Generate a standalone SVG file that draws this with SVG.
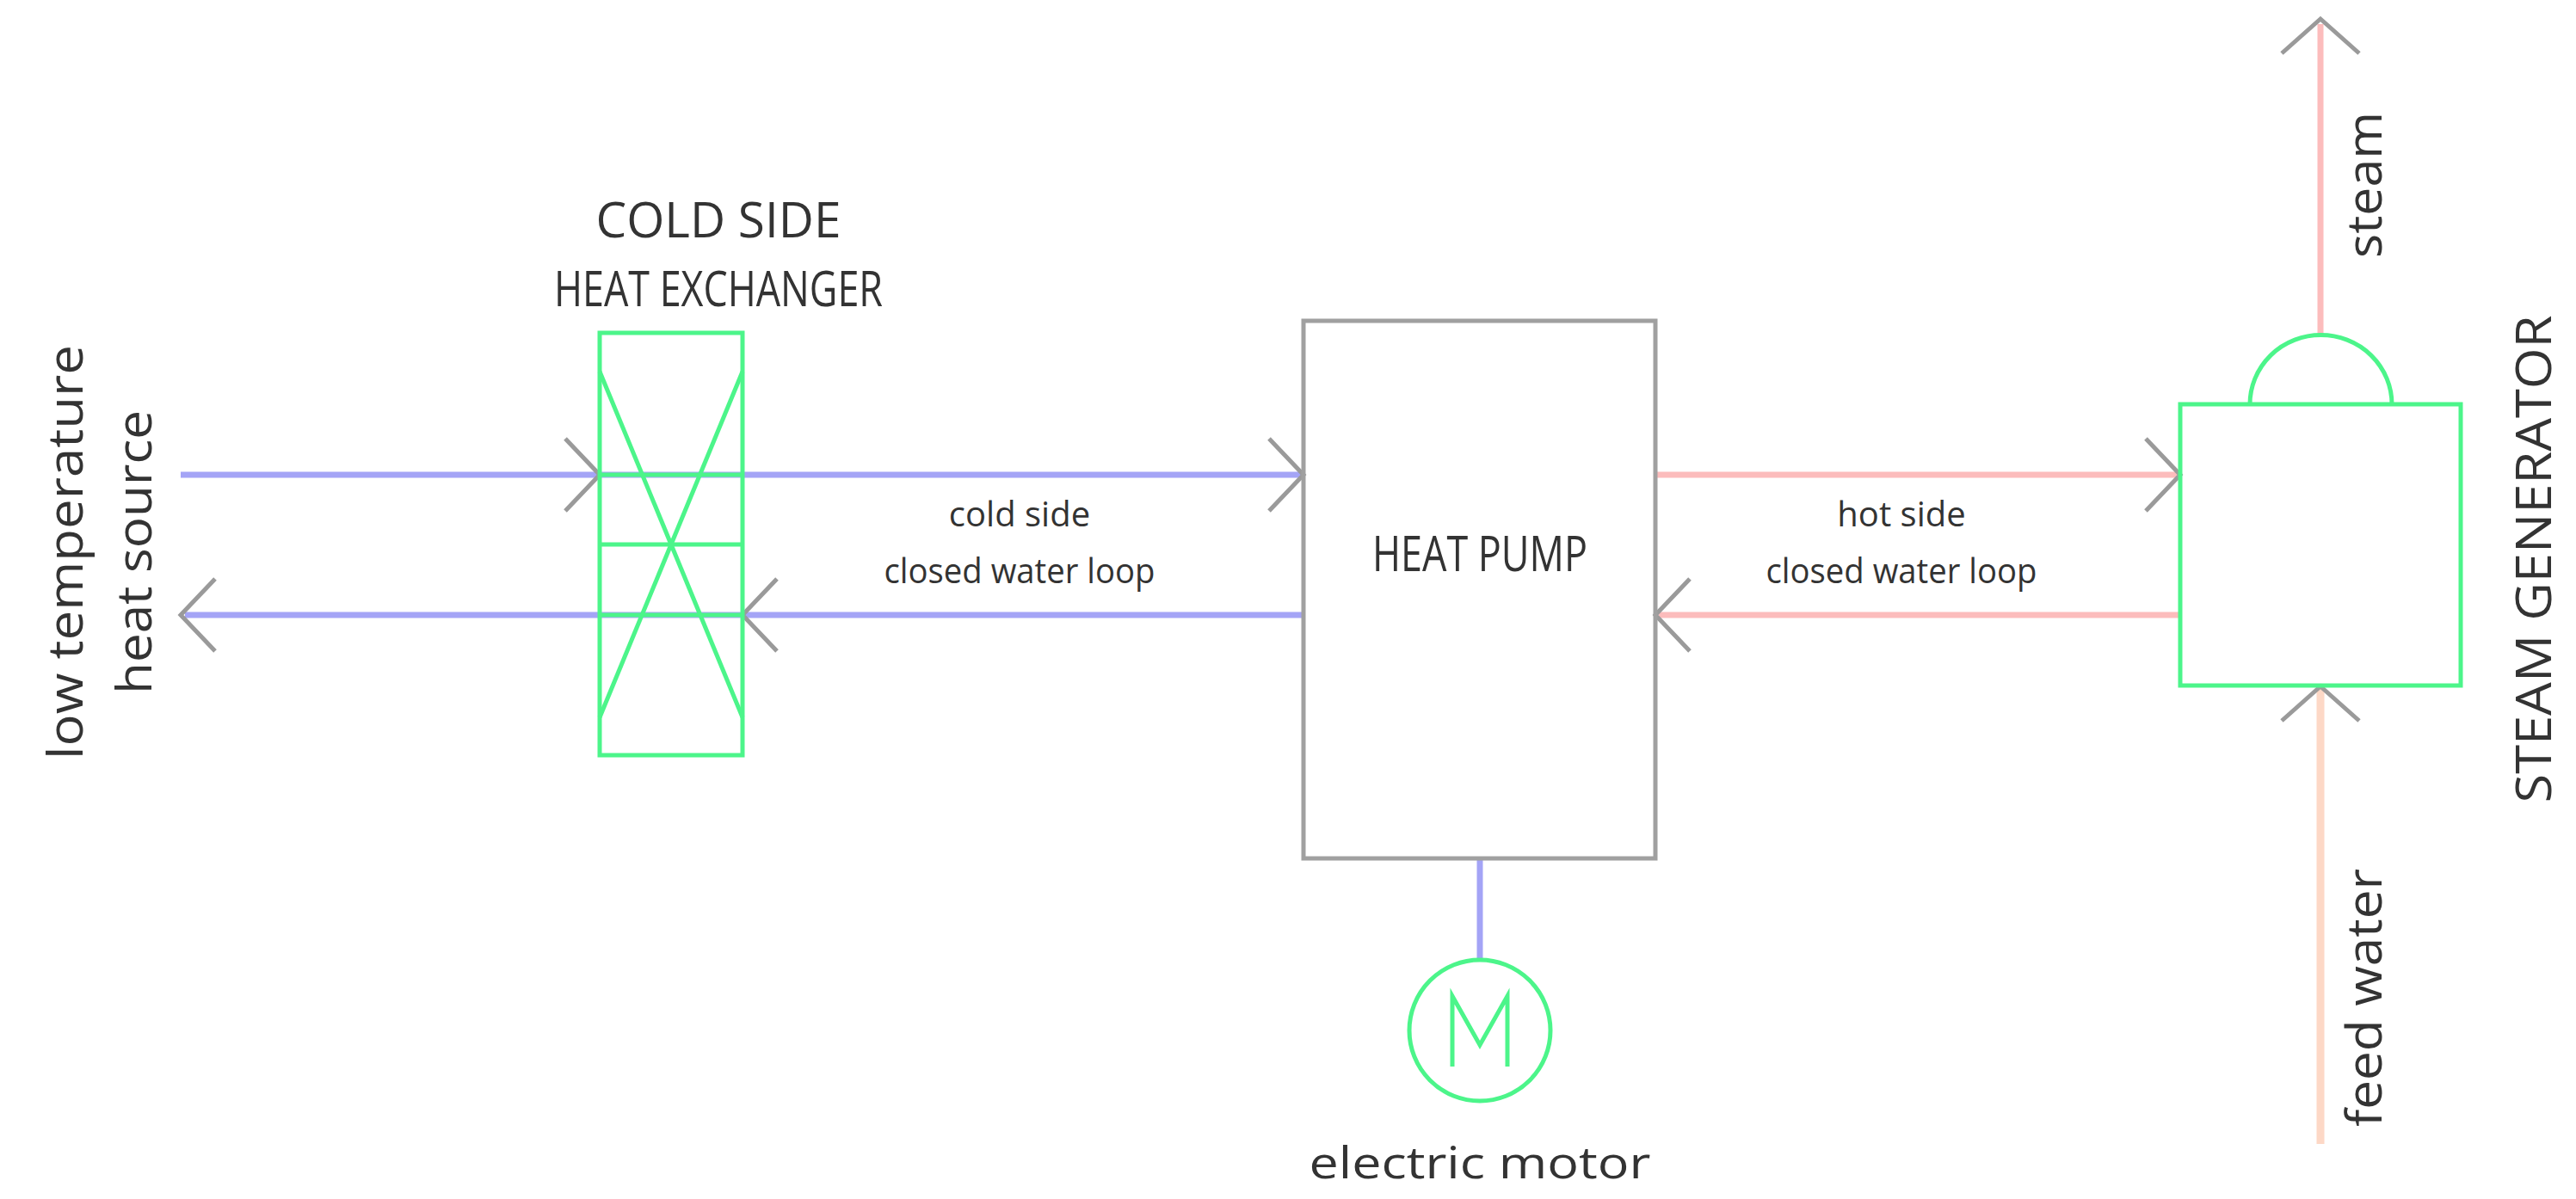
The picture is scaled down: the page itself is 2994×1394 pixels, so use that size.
<svg xmlns="http://www.w3.org/2000/svg" width="2994" height="1394" viewBox="0 0 2994 1394">
<style>
text{font-family:"Open Sans","DejaVu Sans",sans-serif;fill:#333}
.g{fill:none;stroke:#4cf58a;stroke-width:5}
.b{stroke:#a4a4f6;stroke-width:7;fill:none}
.r{stroke:#fcbcbc;stroke-width:7;fill:none}
.p{stroke:#fdd8c6;stroke-width:9;fill:none}
.a{stroke:#9a9a9a;stroke-width:5;fill:none}
</style>
<g id="connectors">
<line class="b" x1="210" y1="552" x2="1515" y2="552"/>
<line class="b" x1="215" y1="715" x2="1515" y2="715"/>
<line class="r" x1="1924" y1="552" x2="2534" y2="552"/>
<line class="r" x1="1928" y1="715" x2="2534" y2="715"/>
<line class="r" x1="2697" y1="28" x2="2697" y2="390"/>
<line class="p" x1="2697" y1="800" x2="2697" y2="1330"/>
<line class="b" x1="1720" y1="998" x2="1720" y2="1116"/>
<path class="a" d="M657 510 L697 552 L657 594"/>
<path class="a" d="M1475 510 L1515 552 L1475 594"/>
<path class="a" d="M250 673 L210 715 L250 757"/>
<path class="a" d="M903 673 L863 715 L903 757"/>
<path class="a" d="M2494 510 L2534 552 L2494 594"/>
<path class="a" d="M1964 673 L1924 715 L1964 757"/>
<path class="a" d="M2652 62 L2697 22 L2742 62"/>
<path class="a" d="M2652 838 L2697 798 L2742 838"/>
<text x="1185" y="612" font-size="40" text-anchor="middle">cold side</text>
<text x="1185" y="678" font-size="40" text-anchor="middle" textLength="315" lengthAdjust="spacingAndGlyphs">closed water loop</text>
<text x="2210" y="612" font-size="40" text-anchor="middle">hot side</text>
<text x="2210" y="678" font-size="40" text-anchor="middle" textLength="315" lengthAdjust="spacingAndGlyphs">closed water loop</text>
<text transform="translate(2768,215) rotate(-90)" font-size="56" text-anchor="middle" textLength="170" lengthAdjust="spacingAndGlyphs">steam</text>
<text transform="translate(2768,1160) rotate(-90)" font-size="56" text-anchor="middle" textLength="300" lengthAdjust="spacingAndGlyphs">feed water</text>
</g>
<g id="source">
<text transform="translate(96,642) rotate(-90)" font-size="56" text-anchor="middle" textLength="482" lengthAdjust="spacingAndGlyphs">low temperature</text>
<text transform="translate(176,642) rotate(-90)" font-size="56" text-anchor="middle" textLength="330" lengthAdjust="spacingAndGlyphs">heat source</text>
</g>
<g id="hx">
<rect class="g" x="697" y="387" width="166" height="491"/>
<line class="g" x1="697" y1="552" x2="863" y2="552"/>
<line class="g" x1="697" y1="633" x2="863" y2="633"/>
<line class="g" x1="697" y1="715" x2="863" y2="715"/>
<line class="g" x1="697" y1="432" x2="863" y2="834"/>
<line class="g" x1="863" y1="432" x2="697" y2="834"/>
<text x="835" y="276" font-size="56" text-anchor="middle" textLength="285" lengthAdjust="spacingAndGlyphs">COLD SIDE</text>
<text x="835" y="356" font-size="56" text-anchor="middle" textLength="382" lengthAdjust="spacingAndGlyphs">HEAT EXCHANGER</text>
</g>
<g id="heatpump">
<rect x="1515" y="373" width="409" height="625" fill="none" stroke="#a0a0a0" stroke-width="5"/>
<text x="1720" y="664" font-size="56" text-anchor="middle" textLength="250" lengthAdjust="spacingAndGlyphs">HEAT PUMP</text>
</g>
<g id="motor">
<circle class="g" cx="1720" cy="1198" r="82"/>
<path class="g" d="M1688 1240 V1158 L1720 1215 L1752 1158 V1240" stroke-width="4"/>
<text x="1720" y="1370" font-size="52" text-anchor="middle" textLength="397" lengthAdjust="spacingAndGlyphs">electric motor</text>
</g>
<g id="steamgen">
<rect class="g" x="2534" y="470" width="326" height="327"/>
<path class="g" d="M2615 470 A82 80 0 0 1 2780 470"/>
<text transform="translate(2965,650) rotate(-90)" font-size="56" text-anchor="middle" textLength="567" lengthAdjust="spacingAndGlyphs">STEAM GENERATOR</text>
</g>
</svg>
